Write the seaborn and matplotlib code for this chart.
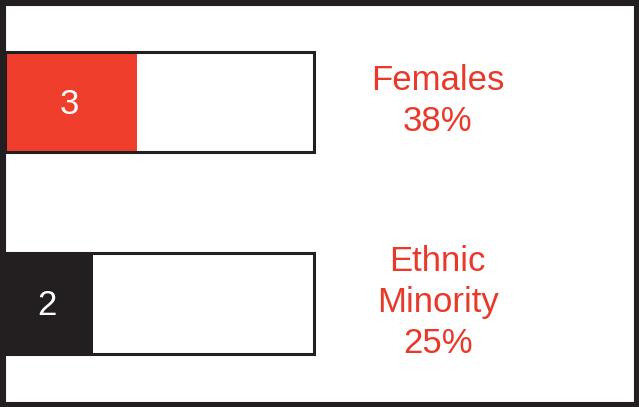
import pandas as pd
import matplotlib.pyplot as plt
import matplotlib.patches as patches
import seaborn as sns

# data
groups = ["Females", "Ethnic\nMinority"]
counts = [3, 2]
box_total = [7, 7]
percents = ["38%", "25%"]
fill_colors = ["#EF3E2C", "#231F20"]

RED = "#E8392B"
DARK = "#231F20"

sns.set_theme(style="white")
plt.rcParams["font.family"] = ["Liberation Sans", "DejaVu Sans"]

df = pd.DataFrame({"group": groups, "count": counts, "total": box_total})

fig = plt.figure(figsize=(6.39, 4.07), dpi=100)
ax = fig.add_axes([0, 0, 1, 1])

# filled part
sns.barplot(data=df, x="count", y="group", hue="group", palette=fill_colors,
            orient="h", width=0.5, linewidth=0, saturation=1, legend=False, ax=ax)
# outline box on top
sns.barplot(data=df, x="total", y="group", color="none", orient="h",
            width=0.5, edgecolor=DARK, linewidth=2.2, fill=False, ax=ax)
for p in ax.patches[len(groups):]:
    p.set_edgecolor(DARK)

for i, (g, c, pc) in enumerate(zip(groups, counts, percents)):
    ax.text(c / 2 - 0.05, i + 0.01, str(c), color="white", fontsize=25,
            ha="center", va="center")
    ax.text(9.8, i - 0.005, f"{g}\n{pc}", color=RED, fontsize=25,
            ha="center", va="center", linespacing=1.3)

px = 44.14  # pixels per unit
ax.set_xlim(-5 / px, 634 / px)
ax.set_ylim(1 + (407 - 303.5) / 201.5, -102 / 201.5)
ax.axis("off")

fig.patches.append(patches.Rectangle((0, 0), 1, 1, transform=fig.transFigure,
                                     fill=False, lw=8, ec=DARK))

fig.savefig("out.png", dpi=100)
